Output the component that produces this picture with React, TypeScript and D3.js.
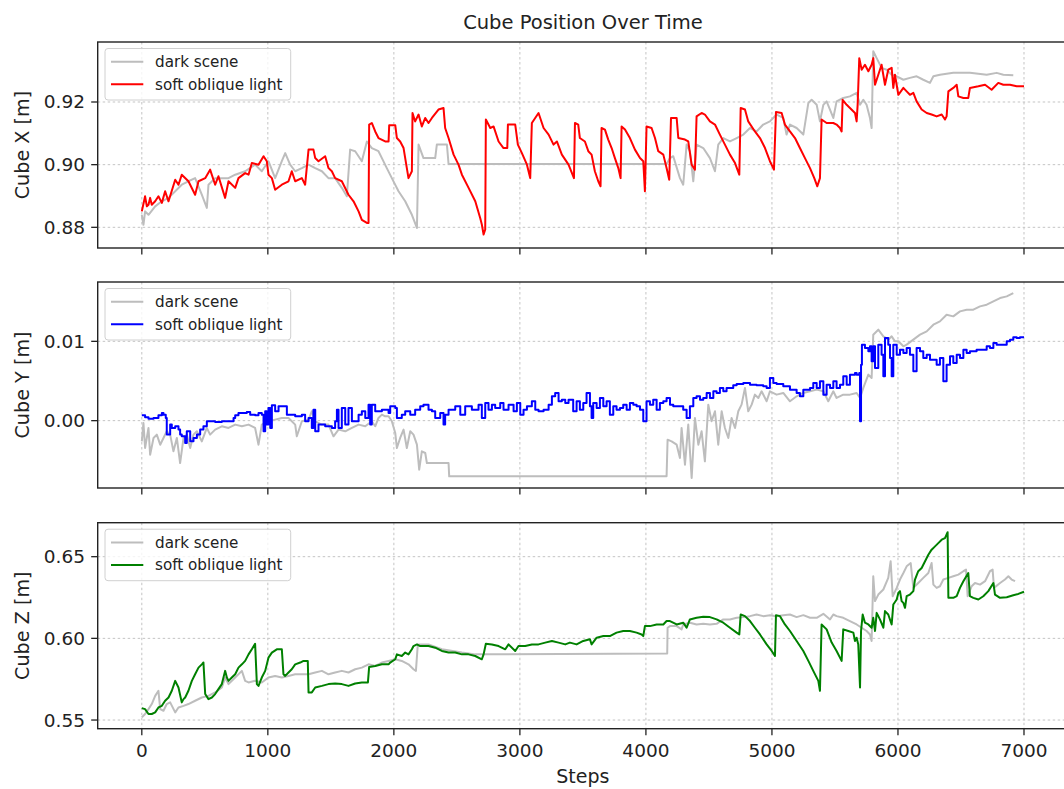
import React from "react";
import * as d3 from "d3";

type Pt = [number, number];

// ---------- data (step, value) ----------
const stepTicks = [0, 1000, 2000, 3000, 4000, 5000, 6000, 7000];
const xPosTicks = [0.88, 0.9, 0.92];
const yPosTicks = [0.0, 0.01];
const zPosTicks = [0.55, 0.6, 0.65];
const seriesNames = ["dark scene", "soft oblique light"];

const xSoft: Pt[] = [[0,0.8851],[26,0.8899],[40,0.8867],[53,0.8872],[66,0.8894],[79,0.8872],[106,0.8883],[132,0.8899],[159,0.8878],[185,0.8915],[212,0.8883],[265,0.8952],[291,0.8936],[317,0.8968],[370,0.8947],[423,0.8904],[450,0.8947],[503,0.8957],[542,0.8984],[582,0.8936],[608,0.8963],[661,0.8894],[688,0.8947],[741,0.8926],[767,0.8957],[820,0.8973],[847,0.8968],[873,0.9005],[926,0.9],[966,0.9027],[992,0.9011],[1005,0.8968],[1032,0.8957],[1058,0.892],[1111,0.8936],[1164,0.8947],[1190,0.8979],[1217,0.8947],[1270,0.8957],[1296,0.8936],[1323,0.9048],[1362,0.9048],[1376,0.9021],[1402,0.9011],[1455,0.9027],[1481,0.8989],[1508,0.8979],[1534,0.8957],[1587,0.8947],[1640,0.8904],[1680,0.8883],[1720,0.8851],[1746,0.8824],[1786,0.8814],[1799,0.8814],[1804,0.9128],[1825,0.9133],[1852,0.9106],[1878,0.9085],[1931,0.9074],[1958,0.9074],[1963,0.9126],[2011,0.9126],[2024,0.9085],[2050,0.9074],[2077,0.9053],[2103,0.8989],[2116,0.8957],[2143,0.8979],[2148,0.9165],[2169,0.9138],[2196,0.916],[2222,0.9122],[2249,0.9149],[2275,0.9133],[2302,0.9149],[2354,0.9176],[2394,0.9181],[2407,0.9117],[2434,0.9085],[2474,0.9032],[2513,0.9],[2540,0.8968],[2593,0.8926],[2646,0.8883],[2685,0.883],[2698,0.8809],[2712,0.8777],[2725,0.8793],[2730,0.9144],[2765,0.9117],[2791,0.9122],[2831,0.9074],[2870,0.9053],[2900,0.9053],[2905,0.9128],[2963,0.9128],[2984,0.9064],[3016,0.9037],[3056,0.9],[3082,0.8957],[3095,0.9133],[3148,0.9165],[3188,0.9117],[3228,0.9096],[3267,0.9064],[3294,0.9074],[3333,0.9032],[3386,0.9],[3429,0.8957],[3437,0.9133],[3463,0.9128],[3476,0.9085],[3516,0.9074],[3543,0.9043],[3569,0.9032],[3595,0.8979],[3622,0.8947],[3640,0.8931],[3648,0.9117],[3675,0.9112],[3701,0.908],[3728,0.9053],[3754,0.9021],[3781,0.8989],[3799,0.8957],[3807,0.9122],[3834,0.9112],[3873,0.9085],[3913,0.9048],[3953,0.9021],[3979,0.9011],[3992,0.8915],[4005,0.9122],[4045,0.9117],[4072,0.9085],[4098,0.9043],[4138,0.9032],[4164,0.8989],[4185,0.8952],[4199,0.9149],[4244,0.9149],[4257,0.9085],[4310,0.908],[4336,0.9074],[4363,0.9],[4389,0.8984],[4402,0.9154],[4442,0.9165],[4468,0.916],[4508,0.9138],[4548,0.9128],[4587,0.9096],[4627,0.9064],[4667,0.9032],[4707,0.9005],[4741,0.8968],[4752,0.9181],[4786,0.9176],[4812,0.9138],[4865,0.9106],[4905,0.9085],[4945,0.9053],[4984,0.9011],[5016,0.8984],[5032,0.9168],[5077,0.9165],[5103,0.9128],[5143,0.9106],[5183,0.9085],[5222,0.9053],[5262,0.9021],[5302,0.8989],[5336,0.8957],[5360,0.8931],[5381,0.8957],[5394,0.9144],[5434,0.9133],[5487,0.9133],[5513,0.9128],[5540,0.9117],[5553,0.9106],[5561,0.9207],[5593,0.9191],[5619,0.9181],[5659,0.9165],[5672,0.9138],[5680,0.9191],[5693,0.934],[5712,0.9303],[5738,0.9319],[5765,0.9298],[5791,0.9319],[5804,0.934],[5818,0.9255],[5844,0.9287],[5870,0.9319],[5897,0.9255],[5923,0.9303],[5950,0.9309],[5963,0.9245],[5976,0.9287],[6003,0.9223],[6043,0.9245],[6069,0.9234],[6095,0.9223],[6122,0.9229],[6148,0.9202],[6188,0.9176],[6228,0.9165],[6267,0.916],[6307,0.9154],[6347,0.916],[6373,0.9144],[6386,0.9154],[6400,0.9234],[6439,0.9245],[6466,0.9255],[6479,0.9218],[6519,0.9213],[6558,0.9213],[6571,0.9245],[6638,0.925],[6691,0.9255],[6743,0.9239],[6796,0.9261],[6836,0.9255],[6889,0.9255],[6942,0.925],[7000,0.925]];

const xDark: Pt[] = [[0,0.884],[13,0.8808],[26,0.8851],[53,0.884],[106,0.8867],[159,0.8883],[212,0.8894],[265,0.8915],[317,0.8936],[370,0.8947],[423,0.8957],[476,0.8904],[516,0.8862],[529,0.8936],[582,0.8957],[688,0.8957],[741,0.8968],[820,0.8979],[899,0.9],[952,0.8979],[1005,0.9011],[1058,0.8957],[1111,0.9011],[1138,0.9037],[1177,0.9],[1217,0.8979],[1270,0.8989],[1323,0.9],[1376,0.8989],[1429,0.8979],[1481,0.8957],[1534,0.8957],[1587,0.8926],[1627,0.8899],[1653,0.9048],[1693,0.9043],[1746,0.9011],[1786,0.9074],[1825,0.9053],[1878,0.9043],[1905,0.9021],[1944,0.8989],[1984,0.8957],[2037,0.8915],[2090,0.8883],[2143,0.884],[2183,0.8798],[2196,0.9064],[2235,0.9021],[2328,0.9021],[2341,0.9064],[2421,0.9064],[2434,0.9002],[4164,0.9002],[4191,0.9021],[4217,0.9027],[4270,0.8957],[4296,0.8936],[4323,0.9064],[4349,0.9043],[4376,0.8947],[4402,0.9064],[4455,0.9053],[4508,0.9021],[4548,0.8979],[4574,0.9064],[4614,0.9085],[4667,0.9074],[4720,0.9085],[4773,0.9096],[4826,0.9117],[4878,0.9106],[4931,0.9128],[4984,0.9138],[5037,0.916],[5090,0.9149],[5116,0.9096],[5143,0.9128],[5196,0.9117],[5249,0.9096],[5289,0.9197],[5315,0.9207],[5355,0.9191],[5381,0.9138],[5408,0.9191],[5434,0.9202],[5487,0.9149],[5513,0.9202],[5566,0.9213],[5619,0.9218],[5672,0.9229],[5699,0.9191],[5725,0.9207],[5751,0.9191],[5778,0.9149],[5791,0.9117],[5804,0.9362],[5831,0.934],[5870,0.9309],[5910,0.9303],[5950,0.9287],[5990,0.9282],[6043,0.9271],[6095,0.9277],[6148,0.9282],[6201,0.9271],[6254,0.9261],[6281,0.9282],[6333,0.9287],[6439,0.9293],[6571,0.9293],[6704,0.9287],[6783,0.9293],[6836,0.9287],[6915,0.9285]];

const ySoft: Pt[] = [[0,0.00067],[26,0.00042],[53,0.00025],[93,0.00034],[132,0.00067],[159,0.00097],[172,0.00076],[190,0.00034],[198,-0.00176],[225,-0.0005],[238,-0.00092],[265,-0.00071],[291,-0.00113],[304,-0.00176],[317,-0.00197],[344,-0.00282],[357,-0.00134],[384,-0.00261],[410,-0.00218],[437,-0.00176],[463,-0.00113],[489,-0.00071],[516,-0.00008],[542,-0.00008],[582,-0.00017],[635,-0.00008],[688,-0.00008],[728,0.00034],[741,0.00067],[767,0.00097],[807,0.00097],[833,0.00109],[860,0.00076],[899,0.00067],[926,0.00097],[952,0.00076],[966,-0.00134],[979,0.00118],[992,-0.0005],[1005,0.0016],[1019,-0.00092],[1032,0.00193],[1058,0.00118],[1085,0.00181],[1138,0.00181],[1151,0.00076],[1190,0.00076],[1217,0.00055],[1270,0.00076],[1296,-0.00008],[1323,0.00034],[1349,-0.00092],[1362,0.00139],[1376,-0.00134],[1402,-0.0005],[1455,-0.00071],[1508,-0.00092],[1534,-0.00008],[1548,0.00139],[1561,-0.00092],[1587,0.0016],[1614,-0.0005],[1640,0.0016],[1667,-0.00008],[1720,0.00076],[1746,0.00118],[1773,0.00034],[1799,0.00202],[1812,-0.0005],[1825,0.00202],[1852,0.00118],[1905,0.00139],[1958,0.00097],[1971,0.00181],[2011,0.0016],[2024,0.00034],[2063,0.00076],[2090,0.00118],[2130,0.00076],[2169,0.00139],[2209,0.00181],[2235,0.00202],[2275,0.00139],[2302,0.00118],[2328,0.00034],[2368,0.00097],[2394,-0.0005],[2407,0.00076],[2434,0.00139],[2487,0.00181],[2527,0.00076],[2566,0.00181],[2619,0.00139],[2672,0.00202],[2698,0.00034],[2725,0.00223],[2751,0.00139],[2778,0.00202],[2804,0.0016],[2844,0.00223],[2870,0.00139],[2910,0.00202],[2950,0.00118],[2976,0.00223],[3003,0.00076],[3029,0.00139],[3056,0.00181],[3095,0.00244],[3122,0.00139],[3148,0.00118],[3188,0.00139],[3228,0.00202],[3254,0.00307],[3280,0.00349],[3307,0.00244],[3333,0.00265],[3360,0.00223],[3386,0.00265],[3423,0.00118],[3450,0.00244],[3476,0.00139],[3503,0.00223],[3529,0.00349],[3556,0.00181],[3569,0.00034],[3582,0.00223],[3609,0.0016],[3635,0.00286],[3662,0.00181],[3688,0.00244],[3714,0.00076],[3741,0.00181],[3767,0.00139],[3794,0.0016],[3820,0.00202],[3847,0.00139],[3873,0.00223],[3900,0.00202],[3926,0.00181],[3953,0.00139],[3979,-0.00008],[4005,0.00244],[4032,0.00202],[4058,0.00265],[4085,0.00139],[4111,0.00223],[4138,0.00244],[4164,0.00286],[4191,0.00202],[4217,0.00181],[4257,0.00181],[4296,0.00139],[4323,0.00034],[4349,0.00181],[4376,0.00286],[4402,0.00307],[4429,0.00265],[4455,0.00286],[4482,0.00349],[4508,0.00286],[4535,0.0037],[4561,0.00349],[4587,0.00412],[4614,0.0037],[4640,0.00412],[4693,0.00445],[4720,0.00462],[4773,0.00475],[4826,0.00454],[4878,0.00445],[4931,0.00433],[4958,0.00412],[4984,0.00538],[5011,0.00475],[5037,0.00462],[5090,0.00433],[5143,0.00391],[5196,0.00349],[5222,0.00307],[5249,0.00391],[5302,0.00412],[5328,0.00475],[5355,0.00412],[5381,0.00496],[5408,0.00328],[5434,0.00454],[5461,0.00412],[5487,0.00496],[5513,0.00412],[5540,0.00454],[5566,0.00559],[5593,0.00454],[5619,0.0058],[5659,0.00601],[5672,0.0058],[5693,0.00601],[5699,-0.00008],[5707,0.00706],[5714,0.00958],[5738,0.00916],[5765,0.00874],[5778,0.00937],[5791,0.00748],[5804,0.00937],[5818,0.00664],[5844,0.00958],[5870,0.00832],[5884,0.00559],[5897,0.01042],[5923,0.00958],[5937,0.0079],[5950,0.00559],[5963,0.00958],[5990,0.00832],[6016,0.00895],[6043,0.00853],[6069,0.00916],[6095,0.00832],[6122,0.00622],[6148,0.00916],[6175,0.00874],[6201,0.0079],[6228,0.00832],[6254,0.00769],[6281,0.00769],[6307,0.00706],[6333,0.0079],[6360,0.00496],[6386,0.00706],[6413,0.00811],[6439,0.00727],[6466,0.00832],[6492,0.0079],[6519,0.00895],[6545,0.00853],[6571,0.00874],[6624,0.00895],[6677,0.00895],[6704,0.00937],[6730,0.00916],[6757,0.00979],[6783,0.00958],[6836,0.00958],[6863,0.01],[6889,0.01021],[6915,0.0105],[6942,0.01042],[6968,0.0105],[7000,0.0105]];

const yDark: Pt[] = [[0,-0.00261],[13,-0.00029],[26,-0.00345],[53,-0.00092],[66,-0.00429],[93,-0.00218],[119,-0.00176],[146,-0.00303],[172,-0.00218],[198,-0.00134],[225,-0.00176],[251,-0.00387],[278,-0.00218],[304,-0.00534],[331,-0.00218],[357,-0.00176],[384,-0.00345],[410,-0.00176],[437,-0.00134],[476,-0.00261],[516,-0.00092],[542,-0.00176],[582,-0.00113],[635,-0.00071],[688,-0.00092],[741,-0.0005],[794,-0.00071],[847,-0.0005],[899,-0.00092],[926,-0.00303],[952,-0.0005],[1005,-0.00008],[1058,0.00013],[1111,0.00034],[1164,0.00034],[1217,-0.0005],[1230,-0.00197],[1270,-0.00008],[1323,0.00013],[1349,0.00118],[1376,-0.00008],[1429,-0.0005],[1481,-0.0005],[1521,-0.00197],[1561,-0.00113],[1614,-0.00134],[1667,-0.00092],[1720,-0.0005],[1773,-0.00071],[1825,-0.00008],[1852,-0.00071],[1878,0.00034],[1905,0.00076],[1931,0.00055],[1958,0.00055],[1984,-0.00008],[2011,-0.00155],[2024,-0.00345],[2050,-0.00218],[2077,-0.00113],[2103,-0.00345],[2130,-0.00134],[2156,-0.00176],[2183,-0.00303],[2201,-0.00618],[2222,-0.00387],[2249,-0.00408],[2262,-0.00534],[2434,-0.00534],[2439,-0.00702],[4164,-0.00702],[4172,-0.0024],[4204,-0.00261],[4244,-0.00303],[4270,-0.00471],[4283,-0.00092],[4310,-0.00555],[4336,-0.0005],[4363,-0.00723],[4389,0.00034],[4416,-0.00303],[4442,-0.00134],[4468,-0.00513],[4495,0.00202],[4521,-0.00008],[4548,0.00118],[4574,-0.00303],[4601,0.00118],[4627,-0.00092],[4654,-0.00218],[4680,0.00034],[4707,-0.00092],[4733,0.00118],[4759,0.00202],[4786,0.00412],[4812,0.00118],[4839,0.00202],[4865,0.00328],[4892,0.00286],[4918,0.0037],[4958,0.00244],[4984,0.0037],[5037,0.00328],[5090,0.00349],[5143,0.00244],[5196,0.00307],[5249,0.00349],[5302,0.0037],[5355,0.00391],[5408,0.0037],[5447,0.00244],[5487,0.0037],[5513,0.00286],[5566,0.00328],[5619,0.00328],[5672,0.00349],[5699,0.00286],[5725,0.00412],[5765,0.0058],[5791,0.00538],[5804,0.01084],[5844,0.01147],[5884,0.01063],[5923,0.01021],[5950,0.01063],[5976,0.01],[6003,0.01],[6043,0.00937],[6069,0.00958],[6122,0.01021],[6175,0.01084],[6228,0.01126],[6281,0.0121],[6333,0.01252],[6386,0.01336],[6439,0.01315],[6492,0.01378],[6545,0.01399],[6598,0.01399],[6651,0.01441],[6704,0.01462],[6757,0.01504],[6810,0.01546],[6863,0.01567],[6915,0.01609]];

const zSoft: Pt[] = [[0,0.5573],[26,0.5567],[53,0.5537],[79,0.5537],[106,0.5547],[132,0.5577],[159,0.5587],[185,0.5618],[212,0.5638],[238,0.5679],[265,0.574],[291,0.5699],[317,0.5608],[331,0.5628],[344,0.5638],[370,0.5679],[397,0.574],[423,0.578],[450,0.5821],[476,0.5841],[489,0.5852],[503,0.5659],[529,0.5628],[556,0.5638],[582,0.5659],[608,0.5689],[635,0.572],[661,0.5801],[675,0.576],[688,0.574],[714,0.576],[741,0.578],[767,0.5821],[794,0.5841],[820,0.5862],[847,0.5902],[873,0.5933],[899,0.5967],[913,0.572],[926,0.5709],[952,0.576],[979,0.5801],[1005,0.5882],[1032,0.5913],[1071,0.5933],[1111,0.5933],[1124,0.578],[1138,0.577],[1164,0.5791],[1190,0.5811],[1217,0.5841],[1257,0.5852],[1283,0.5862],[1317,0.5862],[1323,0.5669],[1349,0.5669],[1376,0.5699],[1429,0.5709],[1481,0.572],[1534,0.5724],[1587,0.572],[1640,0.5709],[1693,0.5724],[1746,0.573],[1794,0.573],[1804,0.5825],[1852,0.5831],[1905,0.5841],[1958,0.5841],[1971,0.5852],[2011,0.5872],[2024,0.5902],[2063,0.5892],[2090,0.5913],[2116,0.5902],[2143,0.5933],[2156,0.5953],[2183,0.5963],[2209,0.5953],[2275,0.5953],[2328,0.5943],[2381,0.5923],[2434,0.5913],[2487,0.5913],[2540,0.5902],[2593,0.5902],[2646,0.5892],[2698,0.5872],[2712,0.5902],[2730,0.5967],[2778,0.5963],[2831,0.5953],[2884,0.5933],[2910,0.5963],[2963,0.5923],[2989,0.5953],[3042,0.5953],[3095,0.5963],[3148,0.5963],[3201,0.5974],[3254,0.5984],[3307,0.5974],[3360,0.5963],[3397,0.5974],[3450,0.5963],[3503,0.5984],[3556,0.5994],[3569,0.5963],[3609,0.6004],[3662,0.6014],[3714,0.6014],[3767,0.6035],[3820,0.6045],[3873,0.6045],[3926,0.6035],[3966,0.6024],[3979,0.6014],[3992,0.6075],[4032,0.6075],[4085,0.6085],[4138,0.6085],[4164,0.6106],[4191,0.6106],[4244,0.6085],[4296,0.6096],[4323,0.6065],[4349,0.6116],[4402,0.6126],[4455,0.6132],[4508,0.613],[4561,0.6116],[4614,0.6096],[4667,0.6065],[4720,0.6035],[4741,0.6024],[4752,0.6146],[4786,0.6136],[4826,0.6106],[4865,0.6065],[4905,0.6024],[4958,0.5963],[4998,0.5923],[5024,0.5892],[5032,0.6142],[5064,0.6136],[5103,0.6085],[5143,0.6045],[5196,0.5984],[5249,0.5923],[5289,0.5862],[5328,0.5801],[5368,0.574],[5381,0.5679],[5394,0.6085],[5434,0.6055],[5474,0.5974],[5513,0.5923],[5553,0.5862],[5566,0.6055],[5606,0.6045],[5646,0.6035],[5659,0.5984],[5672,0.6004],[5685,0.5963],[5699,0.5699],[5707,0.6045],[5720,0.6146],[5738,0.6096],[5765,0.6085],[5791,0.6065],[5804,0.6126],[5818,0.6045],[5831,0.6156],[5857,0.6116],[5884,0.6065],[5897,0.6167],[5923,0.6146],[5950,0.6085],[5963,0.6207],[5990,0.6238],[6003,0.6278],[6016,0.6289],[6029,0.6228],[6043,0.6217],[6056,0.6187],[6069,0.6258],[6095,0.6268],[6122,0.6289],[6135,0.636],[6161,0.6411],[6188,0.6431],[6215,0.6472],[6241,0.6512],[6267,0.6543],[6294,0.6563],[6320,0.6583],[6347,0.6604],[6373,0.6614],[6394,0.665],[6400,0.6248],[6439,0.6248],[6466,0.6258],[6492,0.6309],[6519,0.635],[6558,0.64],[6571,0.6258],[6598,0.6248],[6638,0.6238],[6677,0.6258],[6717,0.6289],[6757,0.6339],[6770,0.6268],[6810,0.6248],[6863,0.6252],[6915,0.6264],[6955,0.6272],[7000,0.6285]];

const zDark: Pt[] = [[0,0.5516],[26,0.5537],[53,0.5567],[79,0.5598],[106,0.5648],[132,0.5679],[146,0.5567],[172,0.5557],[198,0.5598],[225,0.5608],[265,0.5547],[291,0.5577],[331,0.5587],[370,0.5598],[423,0.5618],[476,0.5638],[529,0.5648],[582,0.5669],[635,0.5699],[661,0.576],[688,0.572],[741,0.576],[794,0.5801],[820,0.574],[847,0.573],[899,0.574],[952,0.573],[1005,0.576],[1058,0.577],[1111,0.576],[1164,0.577],[1217,0.578],[1270,0.578],[1323,0.578],[1376,0.5791],[1429,0.5801],[1481,0.578],[1534,0.5791],[1587,0.5801],[1640,0.5791],[1693,0.5811],[1746,0.5821],[1799,0.5841],[1852,0.5831],[1905,0.5852],[1958,0.5862],[2011,0.5872],[2063,0.5862],[2116,0.5841],[2156,0.5811],[2175,0.5801],[2190,0.5963],[2275,0.5963],[2381,0.5933],[2540,0.5913],[2646,0.5902],[2725,0.5902],[4169,0.5907],[4172,0.6065],[4191,0.6075],[4244,0.6075],[4283,0.6055],[4296,0.6085],[4349,0.6096],[4402,0.6085],[4455,0.6089],[4508,0.6085],[4561,0.6089],[4614,0.6116],[4667,0.6116],[4720,0.6126],[4773,0.613],[4826,0.6136],[4878,0.6146],[4931,0.6136],[4984,0.6142],[5037,0.6136],[5090,0.6142],[5143,0.6146],[5196,0.613],[5249,0.6142],[5302,0.6126],[5355,0.6126],[5408,0.615],[5461,0.6116],[5487,0.6146],[5513,0.6136],[5566,0.6126],[5619,0.6106],[5672,0.6085],[5712,0.6065],[5751,0.6045],[5778,0.6024],[5791,0.5984],[5804,0.638],[5818,0.6228],[5844,0.6268],[5884,0.6299],[5923,0.637],[5942,0.6472],[5958,0.6258],[5990,0.6309],[6016,0.636],[6043,0.64],[6069,0.6441],[6101,0.6461],[6122,0.6309],[6161,0.6339],[6201,0.637],[6241,0.64],[6267,0.6461],[6281,0.6329],[6307,0.6309],[6333,0.6319],[6360,0.636],[6400,0.637],[6439,0.638],[6479,0.639],[6519,0.6411],[6540,0.6421],[6553,0.6258],[6585,0.6319],[6611,0.6339],[6651,0.6329],[6691,0.635],[6730,0.6411],[6751,0.6421],[6762,0.6309],[6810,0.6339],[6849,0.636],[6876,0.638],[6902,0.636],[6929,0.635]];

// ---------- layout ----------
const W = 1064;
const H = 789;
const FONT = "DejaVu Sans, sans-serif";
const plotLeft = 97.7;
const plotRight = 1068.1;
const darkColor = "#bdbdbd";

type Panel = {
  key: string;
  top: number;
  bottom: number;
  domain: [number, number];
  ticks: number[];
  fmt: (v: number) => string;
  label: string;
  dark: Pt[];
  soft: Pt[];
  color: string;
  darkCurve: d3.CurveFactory;
  softCurve: d3.CurveFactory;
};

const panels: Panel[] = [
  { key: "x", top: 42, bottom: 248, domain: [0.8734, 0.93915], ticks: xPosTicks, fmt: d3.format(".2f"), label: "Cube X [m]", dark: xDark, soft: xSoft, color: "#ff0000", darkCurve: d3.curveLinear, softCurve: d3.curveLinear },
  { key: "y", top: 282, bottom: 488, domain: [-0.00849, 0.01748], ticks: yPosTicks, fmt: d3.format(".2f"), label: "Cube Y [m]", dark: yDark, soft: ySoft, color: "#0000ff", darkCurve: d3.curveLinear, softCurve: d3.curveStepAfter },
  { key: "z", top: 522.7, bottom: 728.7, domain: [0.5447, 0.6708], ticks: zPosTicks, fmt: d3.format(".2f"), label: "Cube Z [m]", dark: zDark, soft: zSoft, color: "#008000", darkCurve: d3.curveLinear, softCurve: d3.curveLinear },
];

const xScale = d3.scaleLinear().domain([-350, 7350]).range([plotLeft, plotRight]);

function PanelView({ p, last }: { p: Panel; last: boolean }) {
  const y = d3.scaleLinear().domain(p.domain).range([p.bottom, p.top]);
  const mk = (c: d3.CurveFactory) =>
    d3
      .line<Pt>()
      .x((d) => xScale(d[0]))
      .y((d) => y(d[1]))
      .curve(c);
  const clipId = `clip-${p.key}`;
  const lgTop = p.top + 6.5;
  const lgLeft = 105;
  return (
    <g>
      <defs>
        <clipPath id={clipId}>
          <rect x={plotLeft} y={p.top} width={plotRight - plotLeft} height={p.bottom - p.top} />
        </clipPath>
      </defs>
      <g stroke="#c4c4c4" strokeWidth={1} strokeDasharray="2.5 2.5">
        {stepTicks.map((t) => (
          <line key={"gx" + t} x1={xScale(t)} x2={xScale(t)} y1={p.top} y2={p.bottom} />
        ))}
        {p.ticks.map((t) => (
          <line key={"gy" + t} x1={plotLeft} x2={plotRight} y1={y(t)} y2={y(t)} />
        ))}
      </g>
      <g clipPath={`url(#${clipId})`} fill="none" strokeLinejoin="round">
        <path d={mk(p.darkCurve)(p.dark) || ""} stroke={darkColor} strokeWidth={2} />
        <path d={mk(p.softCurve)(p.soft) || ""} stroke={p.color} strokeWidth={2} />
      </g>
      <rect x={plotLeft} y={p.top} width={plotRight - plotLeft} height={p.bottom - p.top} fill="none" stroke="#222" strokeWidth={1.4} />
      <g stroke="#222" strokeWidth={1.3}>
        {stepTicks.map((t) => (
          <line key={"tx" + t} x1={xScale(t)} x2={xScale(t)} y1={p.bottom} y2={p.bottom + 6.5} />
        ))}
        {p.ticks.map((t) => (
          <line key={"ty" + t} x1={plotLeft - 6.5} x2={plotLeft} y1={y(t)} y2={y(t)} />
        ))}
      </g>
      <g fontFamily={FONT} fontSize={18.5} fill="#222" textAnchor="end">
        {p.ticks.map((t) => (
          <text key={"ly" + t} x={85} y={y(t)} dy="0.35em">
            {p.fmt(t)}
          </text>
        ))}
      </g>
      {last && (
        <g fontFamily={FONT} fontSize={18.5} fill="#222" textAnchor="middle">
          {stepTicks.map((t) => (
            <text key={"lx" + t} x={xScale(t)} y={757}>
              {String(t)}
            </text>
          ))}
          <text x={(plotLeft + plotRight) / 2} y={783} fontSize={19}>
            Steps
          </text>
        </g>
      )}
      <text
        transform={`translate(28.5,${(p.top + p.bottom) / 2}) rotate(-90)`}
        textAnchor="middle"
        fontFamily={FONT}
        fontSize={19.2}
        fill="#222"
      >
        {p.label}
      </text>
      <g>
        <rect x={lgLeft} y={lgTop} width={185.7} height={51.5} rx={3} fill="#ffffff" fillOpacity={0.8} stroke="#d0d0d0" strokeWidth={1} />
        <line x1={111} x2={143.3} y1={lgTop + 13.3} y2={lgTop + 13.3} stroke={darkColor} strokeWidth={2} />
        <line x1={111} x2={143.3} y1={lgTop + 35.7} y2={lgTop + 35.7} stroke={p.color} strokeWidth={2} />
        <g fontFamily={FONT} fontSize={15.2} fill="#222">
          <text x={155} y={lgTop + 18.8}>{seriesNames[0]}</text>
          <text x={155} y={lgTop + 41.2}>{seriesNames[1]}</text>
        </g>
      </g>
    </g>
  );
}

export default function App() {
  return (
    <svg
      width={W}
      height={H}
      viewBox={`0 0 ${W} ${H}`}
      style={{ position: "absolute", left: 0, top: 0, background: "#fff" }}
    >
      <rect width={W} height={H} fill="#fff" />
      <text x={(plotLeft + plotRight) / 2} y={29} textAnchor="middle" fontFamily={FONT} fontSize={19.5} fill="#222">
        Cube Position Over Time
      </text>
      {panels.map((p, i) => (
        <PanelView key={p.key} p={p} last={i === panels.length - 1} />
      ))}
    </svg>
  );
}
